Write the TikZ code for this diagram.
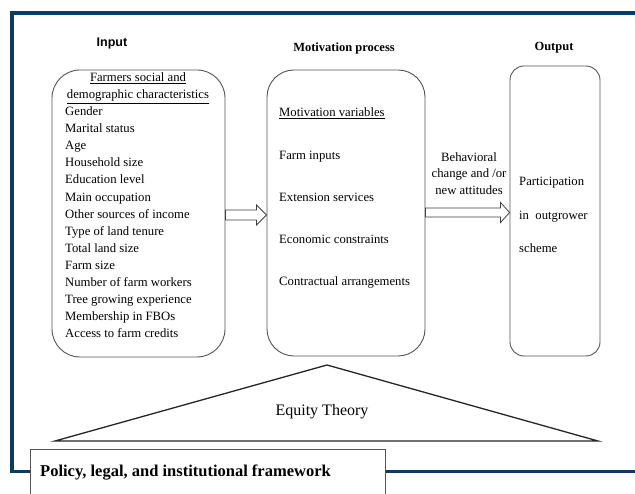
\documentclass[tikz,border=0pt]{standalone}
\usepackage{fontspec}
\setmainfont{Liberation Serif}
\newfontfamily\arialf{Liberation Sans}
\usetikzlibrary{calc}
\definecolor{navy}{HTML}{0B3A66}
\definecolor{boxgray}{HTML}{555555}
\tikzset{
  rbox/.style={draw=boxgray, line width=0.9pt, fill=white, inner sep=0},
  txt/.style={font=\fontsize{12.7}{15}\selectfont, inner sep=0, text height=9, text depth=2.5, anchor=west},
  ctxt/.style={txt, anchor=center},
  head/.style={font=\fontsize{12.5}{15}\selectfont\bfseries, inner sep=0},
  hollow/.style={draw=black!75, line width=0.8pt, fill=white, line join=miter},
}
\begin{document}
\begin{tikzpicture}[x=1pt,y=-1pt]
\useasboundingbox (0,0) rectangle (635,494);
\fill[white] (0,0) rectangle (635,494);
% outer frame
\draw[navy, line width=3.5pt] (635,13) -- (12,13) -- (12,471.5) -- (635,471.5);

% headers
\node[head, font=\fontsize{12.5}{15}\selectfont\bfseries\arialf] (hin) at (112,44) {Input};
\node[head] (hmot) at (344,48) {Motivation process};
\node[head] (hout) at (554,48) {Output};

% boxes
\node[rbox, rounded corners=28, minimum width=173, minimum height=287] (inbox) at (138.5,213.5) {};
\node[rbox, rounded corners=27, minimum width=158, minimum height=286] (midbox) at (346,213) {};
\node[rbox, rounded corners=14, minimum width=90, minimum height=290] (outbox) at (555,211) {};

% left box text
\node[ctxt] (l0) at (138,78) {\underline{Farmers social and}};
\node[ctxt] (l1) at (138,95.5) {\underline{demographic characteristics}};
\foreach \t [count=\i] in {Gender, Marital status, Age, Household size, Education level, Main occupation, Other sources of income, Type of land tenure, Total land size, Farm size, Number of farm workers, Tree growing experience, Membership in FBOs, Access to farm credits}
  \node[txt] (li\i) at (65,{95.5+17.05*\i}) {\t};

% middle box text
\node[txt] (m0) at (279,113) {\underline{Motivation variables}};
\node[txt] (m1) at (279,156) {Farm inputs};
\node[txt] (m2) at (279,198) {Extension services};
\node[txt] (m3) at (279,240) {Economic constraints};
\node[txt] (m4) at (279,282) {Contractual arrangements};

% right box text
\node[txt] (o1) at (519,182) {Participation};
\node[txt] (o2) at (519,216) {in\ \ outgrower};
\node[txt] (o3) at (519,249) {scheme};

% arrow label
\node[ctxt] (b1) at (469,158) {Behavioral};
\node[ctxt] (b2) at (469,174.5) {change and /or};
\node[ctxt] (b3) at (469,191) {new attitudes};

% hollow arrows
\coordinate (a1s) at (inbox.east |- 0,215);
\coordinate (a1e) at (midbox.west |- 0,215);
\draw[hollow] ($(a1s)+(0,-5)$) -- ($(a1e)+(-10,-5)$) -- ($(a1e)+(-10,-10)$) -- (a1e)
  -- ($(a1e)+(-10,10)$) -- ($(a1e)+(-10,5)$) -- ($(a1s)+(0,5)$) -- cycle;
\coordinate (a2s) at (midbox.east |- 0,212.5);
\coordinate (a2e) at (outbox.west |- 0,212.5);
\draw[hollow] ($(a2s)+(0,-4.5)$) -- ($(a2e)+(-9,-4.5)$) -- ($(a2e)+(-9,-10)$) -- (a2e)
  -- ($(a2e)+(-9,10)$) -- ($(a2e)+(-9,4.5)$) -- ($(a2s)+(0,4.5)$) -- cycle;

% triangle
\coordinate (tA) at (327,365);
\coordinate (tL) at (55,441);
\coordinate (tR) at (598,441);
\draw[black!85, line width=1.3pt, line join=miter] (tL) -- (tA) -- (tR) -- cycle;
\node[font=\fontsize{16}{19}\selectfont, inner sep=0] (eq) at (322,412) {Equity Theory};

% policy box
\node[draw=boxgray, line width=0.8pt, fill=white, minimum width=355, minimum height=60, inner sep=0, anchor=north west] (pol) at (30,449) {};
\node[font=\fontsize{16.5}{19}\selectfont\bfseries, inner sep=0, anchor=west] (poltxt) at (40,473) {Policy, legal, and institutional framework};
\end{tikzpicture}
\end{document}
